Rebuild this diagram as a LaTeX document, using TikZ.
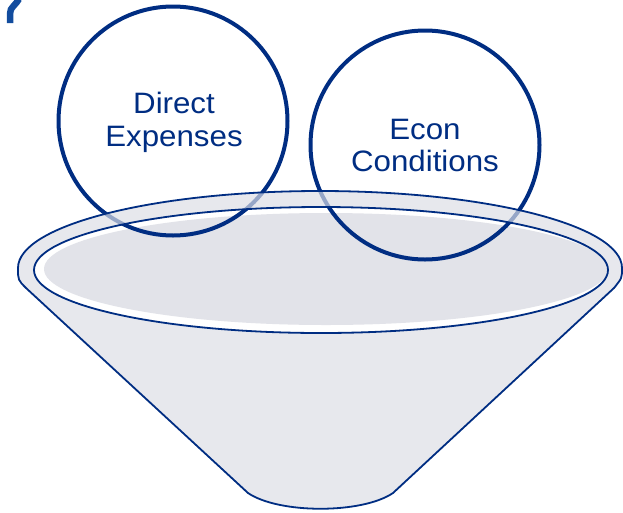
\documentclass[tikz,border=0pt]{standalone}
\usepackage{fontspec}
\setmainfont{Liberation Sans}
\definecolor{navy}{RGB}{0,45,130}
\definecolor{qblue}{RGB}{18,76,158}
\definecolor{funnelgray}{RGB}{231,232,237}
\definecolor{basingray}{RGB}{226,227,233}
\tikzset{
  rimline/.style={draw=navy, line width=1.8pt},
  bubble/.style={circle, draw=navy, line width=4pt, minimum size=229pt, inner sep=0pt},
  bubbletext/.style={anchor=base, inner sep=0pt, text=navy, xscale=1.06, font=\fontsize{29.5}{33}\selectfont},
}
\begin{document}
\begin{tikzpicture}[x=1pt,y=-1pt]
\useasboundingbox (0,0) rectangle (623,512);
% funnel body
\path[fill=funnelgray] (18,268) arc[start angle=180,end angle=360,x radius=302,y radius=77]
  .. controls (622,278) .. (614,288) -- (393,493)
  .. controls (362,514) and (279,514) .. (248,493) -- (26,288)
  .. controls (18,280) .. (18,268) -- cycle;
% basin: white opening with grey liquid surface
\fill[white] (321,270) ellipse[x radius=287,y radius=63];
\begin{scope}
  \clip (321,270) ellipse[x radius=287,y radius=63];
  \fill[basingray] (326,269) ellipse[x radius=282,y radius=56];
\end{scope}
% bubbles
\node[bubble] (direct) at (173,121) {};
\node[bubble] (econ) at (425,145) {};
\node[bubbletext] (direct1) at (174,113) {Direct};
\node[bubbletext] (direct2) at (174,146) {Expenses};
\node[bubbletext] (econ1) at (425,139) {Econ};
\node[bubbletext] (econ2) at (425,171) {Conditions};
% rim band over the bubbles
\fill[funnelgray, fill opacity=0.65, even odd rule]
  (320,268) ellipse[x radius=302,y radius=77]
  (321,270) ellipse[x radius=287,y radius=63];
% outlines
\draw[rimline] (18,268) arc[start angle=180,end angle=360,x radius=302,y radius=77]
  .. controls (622,278) .. (614,288) -- (393,493)
  .. controls (362,514) and (279,514) .. (248,493) -- (26,288)
  .. controls (18,280) .. (18,268) -- cycle;
\draw[rimline] (321,270) ellipse[x radius=287,y radius=63];
% partial question mark in the corner
\draw[qblue, line width=6.5pt] (10,23) -- (10,14) .. controls (10,10) .. (17,2) -- (19,-1);
\end{tikzpicture}
\end{document}
